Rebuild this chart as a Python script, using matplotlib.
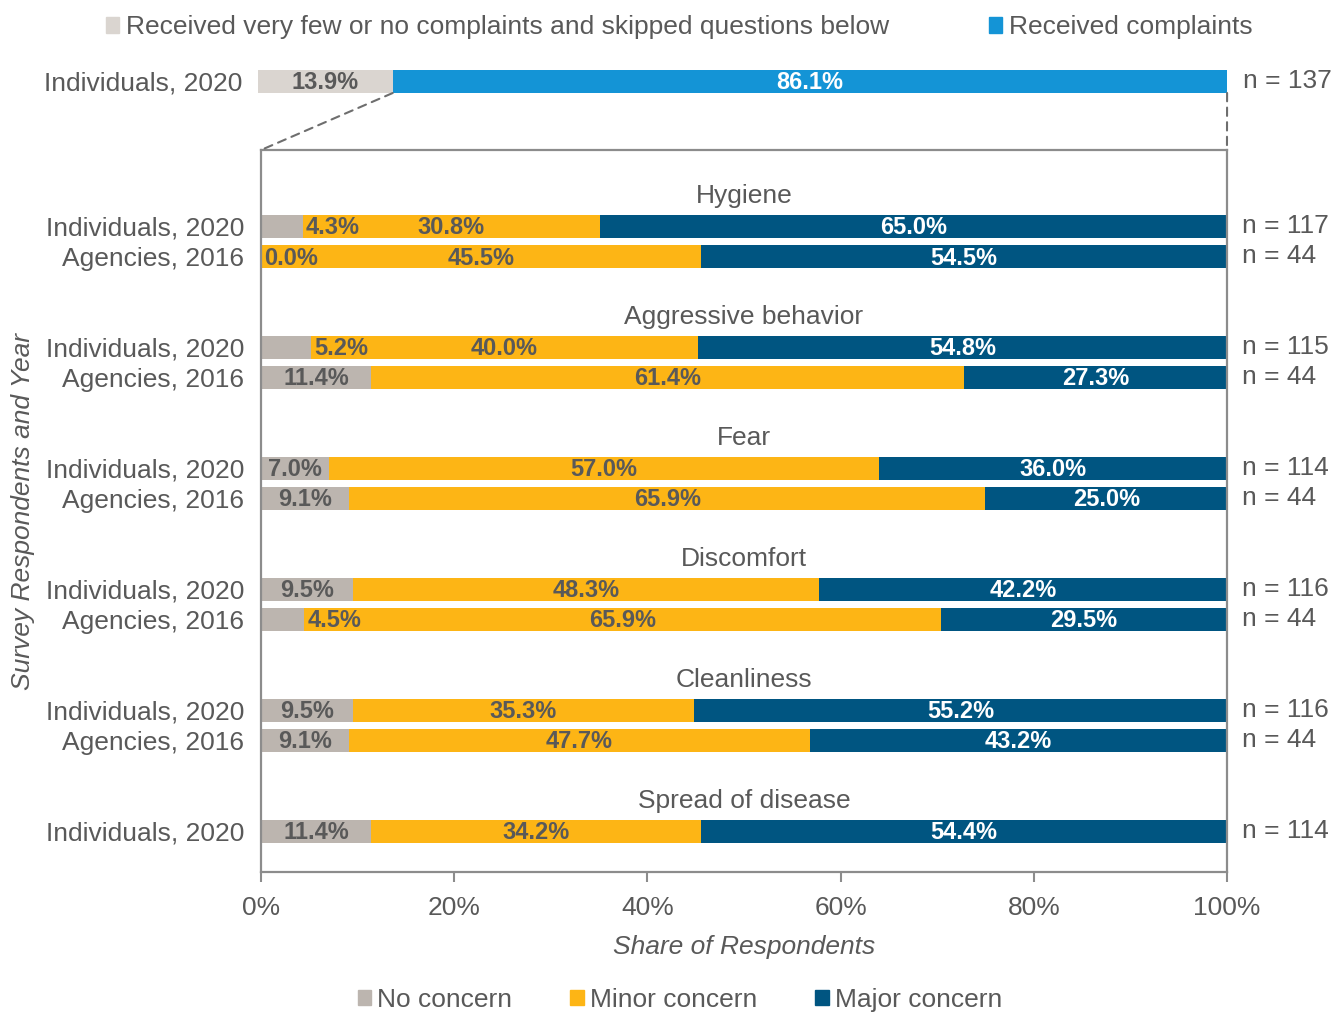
import numpy as np
import matplotlib.pyplot as plt
from matplotlib.patches import Patch, ConnectionPatch

plt.rcParams['font.family'] = ['Liberation Sans', 'DejaVu Sans']

# donnees
categories = ["Hygiene", "Aggressive behavior", "Fear", "Discomfort",
              "Cleanliness", "Spread of disease"]
ind_no = [4.3, 5.2, 7.0, 9.5, 9.5, 11.4]
ind_minor = [30.8, 40.0, 57.0, 48.3, 35.3, 34.2]
ind_major = [65.0, 54.8, 36.0, 42.2, 55.2, 54.4]
ind_n = [117, 115, 114, 116, 116, 114]
ag_no = [0.0, 11.4, 9.1, 4.5, 9.1]
ag_minor = [45.5, 61.4, 65.9, 65.9, 47.7]
ag_major = [54.5, 27.3, 25.0, 29.5, 43.2]
ag_n = [44, 44, 44, 44, 44]

top_skipped = 13.9
top_complaints = 86.1
top_n = 137

c_no = '#bcb5af'
c_minor = '#fdb515'
c_major = '#005581'
c_skip = '#dad5d0'
c_compl = '#1494d6'
gris = '#595959'
fs = 19

fig = plt.figure(figsize=(13.37, 10.13), dpi=100)
ax = fig.add_axes([0.1952, 0.1392, 0.7225, 0.7127])
axt = fig.add_axes([0.1930, 0.9082, 0.7248, 0.0227])

# barre du haut
axt.barh(0.5, top_skipped, height=1, color=c_skip)
axt.barh(0.5, top_complaints, left=top_skipped, height=1, color=c_compl)
axt.text(top_skipped / 2, 0.45, "%.1f%%" % top_skipped, ha='center', va='center',
         fontsize=17, fontweight='bold', color=gris)
axt.text(top_skipped + top_complaints / 2, 0.45, "%.1f%%" % top_complaints,
         ha='center', va='center', fontsize=17, fontweight='bold', color='white')
axt.text(101.6, 0.5, "n = %d" % top_n, ha='left', va='center', fontsize=fs, color=gris)
axt.set_xlim(0, 100)
axt.set_ylim(0, 1)
axt.set_yticks([0.5])
axt.set_yticklabels(["Individuals, 2020"], fontsize=fs, color=gris)
axt.tick_params(axis='y', length=0, pad=11)
axt.set_xticks([])
for s in axt.spines.values():
    s.set_visible(False)

def barre(y, vals, n):
    left = 0
    couleurs = [c_no, c_minor, c_major]
    txt = [gris, gris, 'white']
    for i in range(3):
        ax.barh(y, vals[i], left=left, height=0.76, color=couleurs[i])
        if i == 0 and vals[i] < 6:
            ax.text(left + vals[i] + 0.3, y + 0.05, "%.1f%%" % vals[i], ha='left',
                    va='center', fontsize=17, fontweight='bold', color=txt[i])
        else:
            ax.text(left + vals[i] / 2, y + 0.05, "%.1f%%" % vals[i], ha='center',
                    va='center', fontsize=17, fontweight='bold', color=txt[i])
        left += vals[i]
    ax.text(101.6, y, "n = %d" % n, ha='left', va='center', fontsize=fs, color=gris,
            clip_on=False)

yticks = []
ylabels = []
for g, cat in enumerate(categories):
    y0 = 4 * g
    ax.text(50, y0, cat, ha='center', va='center', fontsize=fs, color=gris)
    barre(y0 + 1, [ind_no[g], ind_minor[g], ind_major[g]], ind_n[g])
    yticks.append(y0 + 1)
    ylabels.append("Individuals, 2020")
    if g < len(ag_no):
        barre(y0 + 2, [ag_no[g], ag_minor[g], ag_major[g]], ag_n[g])
        yticks.append(y0 + 2)
        ylabels.append("Agencies, 2016")

ax.set_xlim(0, 100)
ax.set_ylim(22.35, -1.52)
ax.set_yticks(yticks)
ax.set_yticklabels(ylabels, fontsize=fs, color=gris)
ax.tick_params(axis='y', length=0, pad=12)
ax.set_xticks(np.arange(0, 101, 20))
ax.set_xticklabels(["%d%%" % v for v in range(0, 101, 20)], fontsize=fs, color=gris)
ax.tick_params(axis='x', length=7, width=1.5, color='#8c8c8c', pad=10)
for s in ax.spines.values():
    s.set_color('#8c8c8c')
    s.set_linewidth(1.6)

ax.set_xlabel("Share of Respondents", fontsize=fs, style='italic', color=gris)
ax.xaxis.set_label_coords(0.5, -0.087)
ax.set_ylabel("Survey Respondents and Year", fontsize=fs, style='italic', color=gris)
ax.yaxis.set_label_coords(-0.234, 0.5)

# lignes pointillees entre la barre du haut et le cadre
for xa, xb in [(top_skipped, 0), (100, 100)]:
    cp = ConnectionPatch(xyA=(xa, 0), coordsA=axt.transData,
                         xyB=(xb, -1.52), coordsB=ax.transData,
                         linestyle=(0, (4, 3)), color='#6e6e6e', linewidth=1.5)
    fig.add_artist(cp)

# legendes
h_top = [Patch(color=c_skip, label="Received very few or no complaints and skipped questions below"),
         Patch(color=c_compl, label="Received complaints")]
fig.legend(handles=h_top, loc='center', bbox_to_anchor=(0.508, 0.973), ncol=2,
           frameon=False, fontsize=fs, labelcolor=gris, handlelength=0.5,
           handleheight=0.5, handletextpad=0.25, columnspacing=3.8,
           borderaxespad=0, borderpad=0)
h_bas = [Patch(color=c_no, label="No concern"),
         Patch(color=c_minor, label="Minor concern"),
         Patch(color=c_major, label="Major concern")]
fig.legend(handles=h_bas, loc='center', bbox_to_anchor=(0.5086, 0.0128), ncol=3,
           frameon=False, fontsize=fs, labelcolor=gris, handlelength=0.5,
           handleheight=0.5, handletextpad=0.25, columnspacing=2.2,
           borderaxespad=0, borderpad=0)

fig.savefig("out.png", dpi=100)
